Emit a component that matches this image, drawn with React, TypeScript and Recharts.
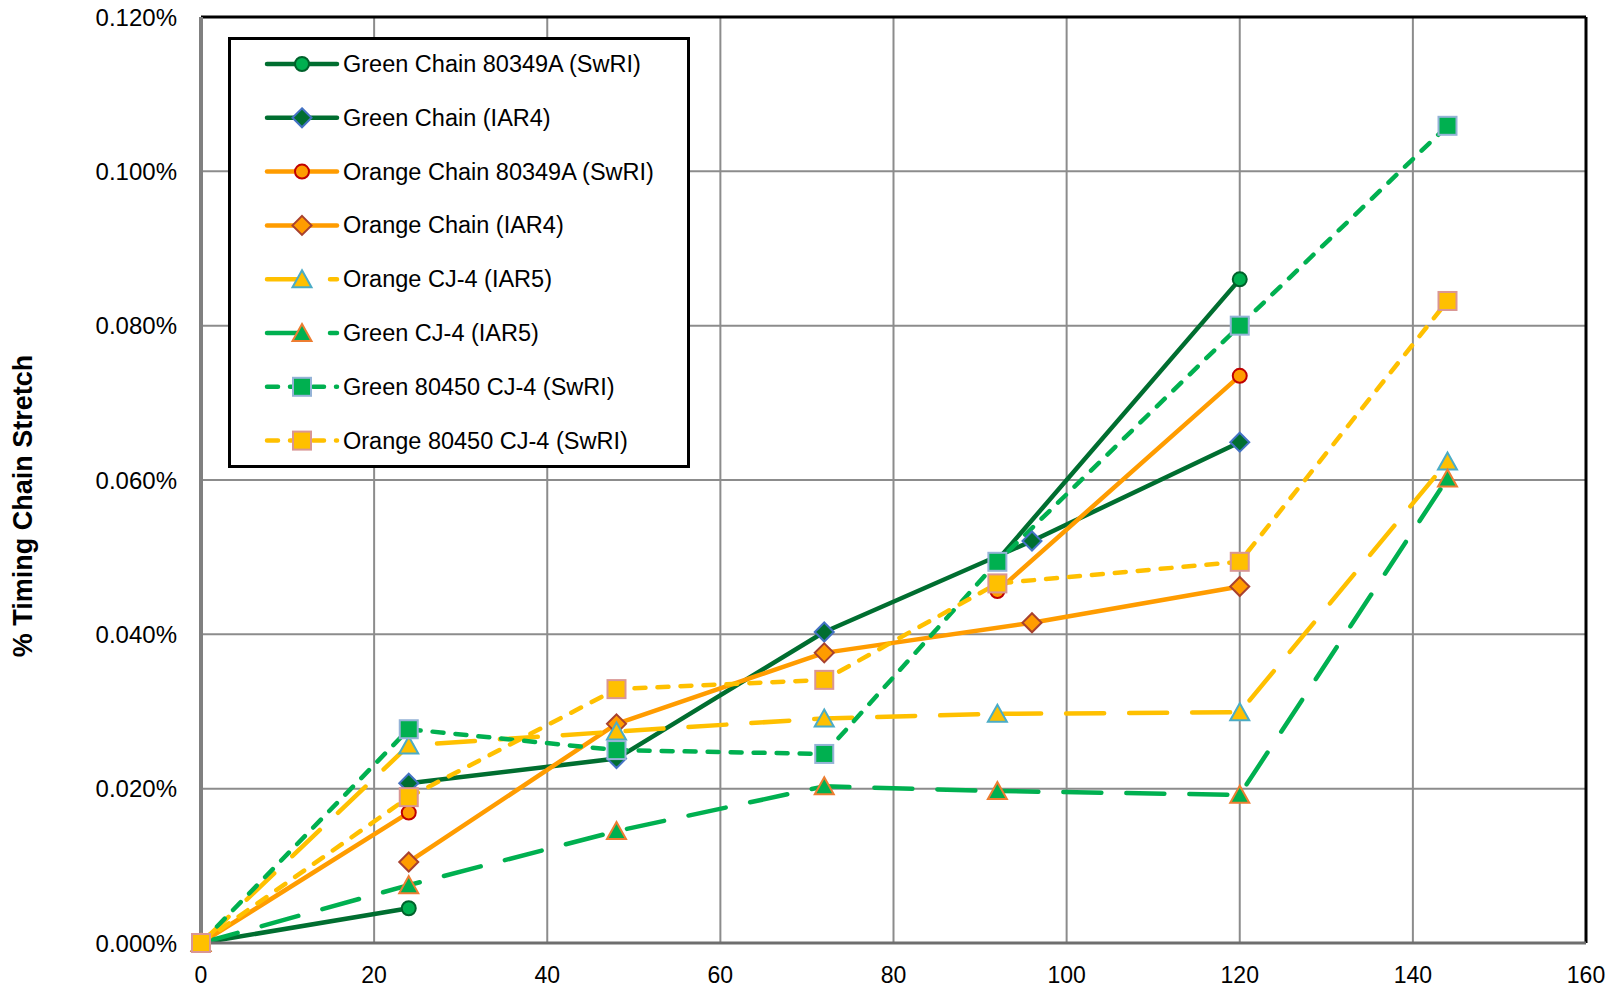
import React from "react";
import { LineChart, Line, XAxis, YAxis, CartesianGrid, Legend, ReferenceLine } from "recharts";

// hours on test vs % stretch
const xTicks = [0, 20, 40, 60, 80, 100, 120, 140, 160];
const yTicks = [0, 0.02, 0.04, 0.06, 0.08, 0.1, 0.12];

const greenChainSwri = [
  { x: 0, y: 0 },
  { x: 24, y: 0.0045 },
  { x: 48, y: null },
  { x: 92, y: 0.0496 },
  { x: 120, y: 0.086 },
];
const greenChainIar4 = [
  { x: 24, y: 0.0207 },
  { x: 48, y: 0.0239 },
  { x: 72, y: 0.0403 },
  { x: 96, y: 0.0521 },
  { x: 120, y: 0.0649 },
];
const orangeChainSwri = [
  { x: 0, y: 0 },
  { x: 24, y: 0.0169 },
  { x: 48, y: null },
  { x: 92, y: 0.0456 },
  { x: 120, y: 0.0735 },
];
const orangeChainIar4 = [
  { x: 24, y: 0.0105 },
  { x: 48, y: 0.0284 },
  { x: 72, y: 0.0376 },
  { x: 96, y: 0.0415 },
  { x: 120, y: 0.0462 },
];
const orangeCj4Iar5 = [
  { x: 0, y: 0 },
  { x: 24, y: 0.0256 },
  { x: 48, y: 0.0274 },
  { x: 72, y: 0.0291 },
  { x: 92, y: 0.0297 },
  { x: 120, y: 0.0299 },
  { x: 144, y: 0.0624 },
];
const greenCj4Iar5 = [
  { x: 0, y: 0 },
  { x: 24, y: 0.0075 },
  { x: 48, y: 0.0145 },
  { x: 72, y: 0.0203 },
  { x: 92, y: 0.0197 },
  { x: 120, y: 0.0192 },
  { x: 144, y: 0.0602 },
];
const green80450Swri = [
  { x: 0, y: 0 },
  { x: 24, y: 0.0277 },
  { x: 48, y: 0.025 },
  { x: 72, y: 0.0245 },
  { x: 92, y: 0.0494 },
  { x: 120, y: 0.08 },
  { x: 144, y: 0.1059 },
];
const orange80450Swri = [
  { x: 0, y: 0 },
  { x: 24, y: 0.0189 },
  { x: 48, y: 0.0329 },
  { x: 72, y: 0.0341 },
  { x: 92, y: 0.0466 },
  { x: 120, y: 0.0494 },
  { x: 144, y: 0.0832 },
];

const DARK_GREEN = "#006E30";
const GREEN = "#00B050";
const ORANGE = "#FF9C00";
const GOLD = "#FFC000";
const LONG_DASH = "38 25";
const SHORT_DASH = "11 12";
const FONT = "'Liberation Sans', Arial, sans-serif";

type Kind = "circle" | "diamond" | "triangle" | "square";

const series = [
  { name: "Green Chain 80349A (SwRI)", data: greenChainSwri, color: DARK_GREEN, dash: undefined, kind: "circle", fill: GREEN, edge: "#00612B" },
  { name: "Green Chain (IAR4)", data: greenChainIar4, color: DARK_GREEN, dash: undefined, kind: "diamond", fill: DARK_GREEN, edge: "#4472C4" },
  { name: "Orange Chain 80349A (SwRI)", data: orangeChainSwri, color: ORANGE, dash: undefined, kind: "circle", fill: ORANGE, edge: "#C00000" },
  { name: "Orange Chain (IAR4)", data: orangeChainIar4, color: ORANGE, dash: undefined, kind: "diamond", fill: ORANGE, edge: "#A8412F" },
  { name: "Orange CJ-4 (IAR5)", data: orangeCj4Iar5, color: GOLD, dash: LONG_DASH, kind: "triangle", fill: GOLD, edge: "#4BACC6" },
  { name: "Green CJ-4 (IAR5)", data: greenCj4Iar5, color: GREEN, dash: LONG_DASH, kind: "triangle", fill: GREEN, edge: "#ED7D31" },
  { name: "Green 80450 CJ-4 (SwRI)", data: green80450Swri, color: GREEN, dash: SHORT_DASH, kind: "square", fill: GREEN, edge: "#95B3D7" },
  { name: "Orange 80450 CJ-4 (SwRI)", data: orange80450Swri, color: GOLD, dash: SHORT_DASH, kind: "square", fill: GOLD, edge: "#D99694" },
];

function Marker({ kind, cx, cy, fill, edge }: { kind: Kind; cx: number; cy: number; fill: string; edge: string }) {
  if (kind === "circle") return <circle cx={cx} cy={cy} r={7} fill={fill} stroke={edge} strokeWidth={2} />;
  if (kind === "diamond") {
    const r = 9.5;
    return <path d={`M${cx},${cy - r}L${cx + r},${cy}L${cx},${cy + r}L${cx - r},${cy}Z`} fill={fill} stroke={edge} strokeWidth={2} />;
  }
  if (kind === "triangle") {
    return <path d={`M${cx},${cy - 9}L${cx + 9.5},${cy + 8}L${cx - 9.5},${cy + 8}Z`} fill={fill} stroke={edge} strokeWidth={2} />;
  }
  return <rect x={cx - 9} y={cy - 9} width={18} height={18} fill={fill} stroke={edge} strokeWidth={2} />;
}

function makeDot(s: (typeof series)[number]) {
  return (p: any) => {
    const key = `${s.name}-${p.index}`;
    if (p.cy == null || p.value == null || isNaN(p.cy)) return <g key={key} />;
    return (
      <g key={key}>
        <Marker kind={s.kind as Kind} cx={p.cx} cy={p.cy} fill={s.fill} edge={s.edge} />
      </g>
    );
  };
}

function LegendBox() {
  const rowH = 53.8;
  return (
    <div style={{ width: 462, height: 431, border: "3px solid #000", boxSizing: "border-box", background: "#fff" }}>
      <svg width={456} height={425} style={{ display: "block" }}>
        {series.map((s, i) => {
          const cy = 24 + i * rowH;
          return (
            <g key={s.name}>
              <line x1={36} x2={106} y1={cy} y2={cy} stroke={s.color} strokeWidth={4.5} strokeDasharray={s.dash} strokeLinecap="round" />
              <Marker kind={s.kind as Kind} cx={71} cy={cy} fill={s.fill} edge={s.edge} />
              <text x={112} y={cy} dominantBaseline="central" fontSize={23.5} fontFamily={FONT} fill="#000">
                {s.name}
              </text>
            </g>
          );
        })}
      </svg>
    </div>
  );
}

function AxisTitle() {
  return (
    <text x={23} y={506} transform="rotate(-90, 23, 506)" textAnchor="middle" dominantBaseline="central" fontSize={27} fontWeight="bold" fontFamily={FONT} fill="#000">
      % Timing Chain Stretch
    </text>
  );
}

export default function App() {
  return (
    <div style={{ width: 1617, height: 991, background: "#fff" }}>
      <style>{`body{margin:0}`}</style>
      <LineChart width={1617} height={991} margin={{ top: 17, right: 31, bottom: 8, left: 0 }}>
        <CartesianGrid stroke="#8C8C8C" strokeWidth={2} />
        <XAxis
          dataKey="x"
          type="number"
          domain={[0, 160]}
          ticks={xTicks}
          height={40}
          tickSize={0}
          tickMargin={24}
          axisLine={{ stroke: "#6E6E6E", strokeWidth: 3 }}
          tick={{ fill: "#000", fontSize: 23, fontFamily: FONT }}
          allowDuplicatedCategory={false}
        />
        <YAxis
          type="number"
          domain={[0, 0.12]}
          ticks={yTicks}
          width={201}
          tickSize={0}
          tickMargin={24}
          axisLine={{ stroke: "#808080", strokeWidth: 4 }}
          tick={{ fill: "#000", fontSize: 24, fontFamily: FONT }}
          tickFormatter={(v: number) => v.toFixed(3) + "%"}
          label={{ content: AxisTitle }}
        />
        <ReferenceLine y={0.12} stroke="#000" strokeWidth={3} />
        <ReferenceLine x={160} stroke="#000" strokeWidth={3} />
        {series.map((s) => (
          <Line
            key={s.name}
            data={s.data}
            dataKey="y"
            name={s.name}
            type="linear"
            stroke={s.color}
            strokeWidth={4.5}
            strokeDasharray={s.dash}
            strokeLinecap="round"
            strokeLinejoin="round"
            connectNulls={false}
            dot={makeDot(s)}
            activeDot={false}
            isAnimationActive={false}
          />
        ))}
        <Legend
          layout="vertical"
          align="center"
          verticalAlign="middle"
          content={() => <LegendBox />}
          wrapperStyle={{ position: "absolute", left: 228, top: 37, width: 462, height: 431 }}
        />
      </LineChart>
    </div>
  );
}
